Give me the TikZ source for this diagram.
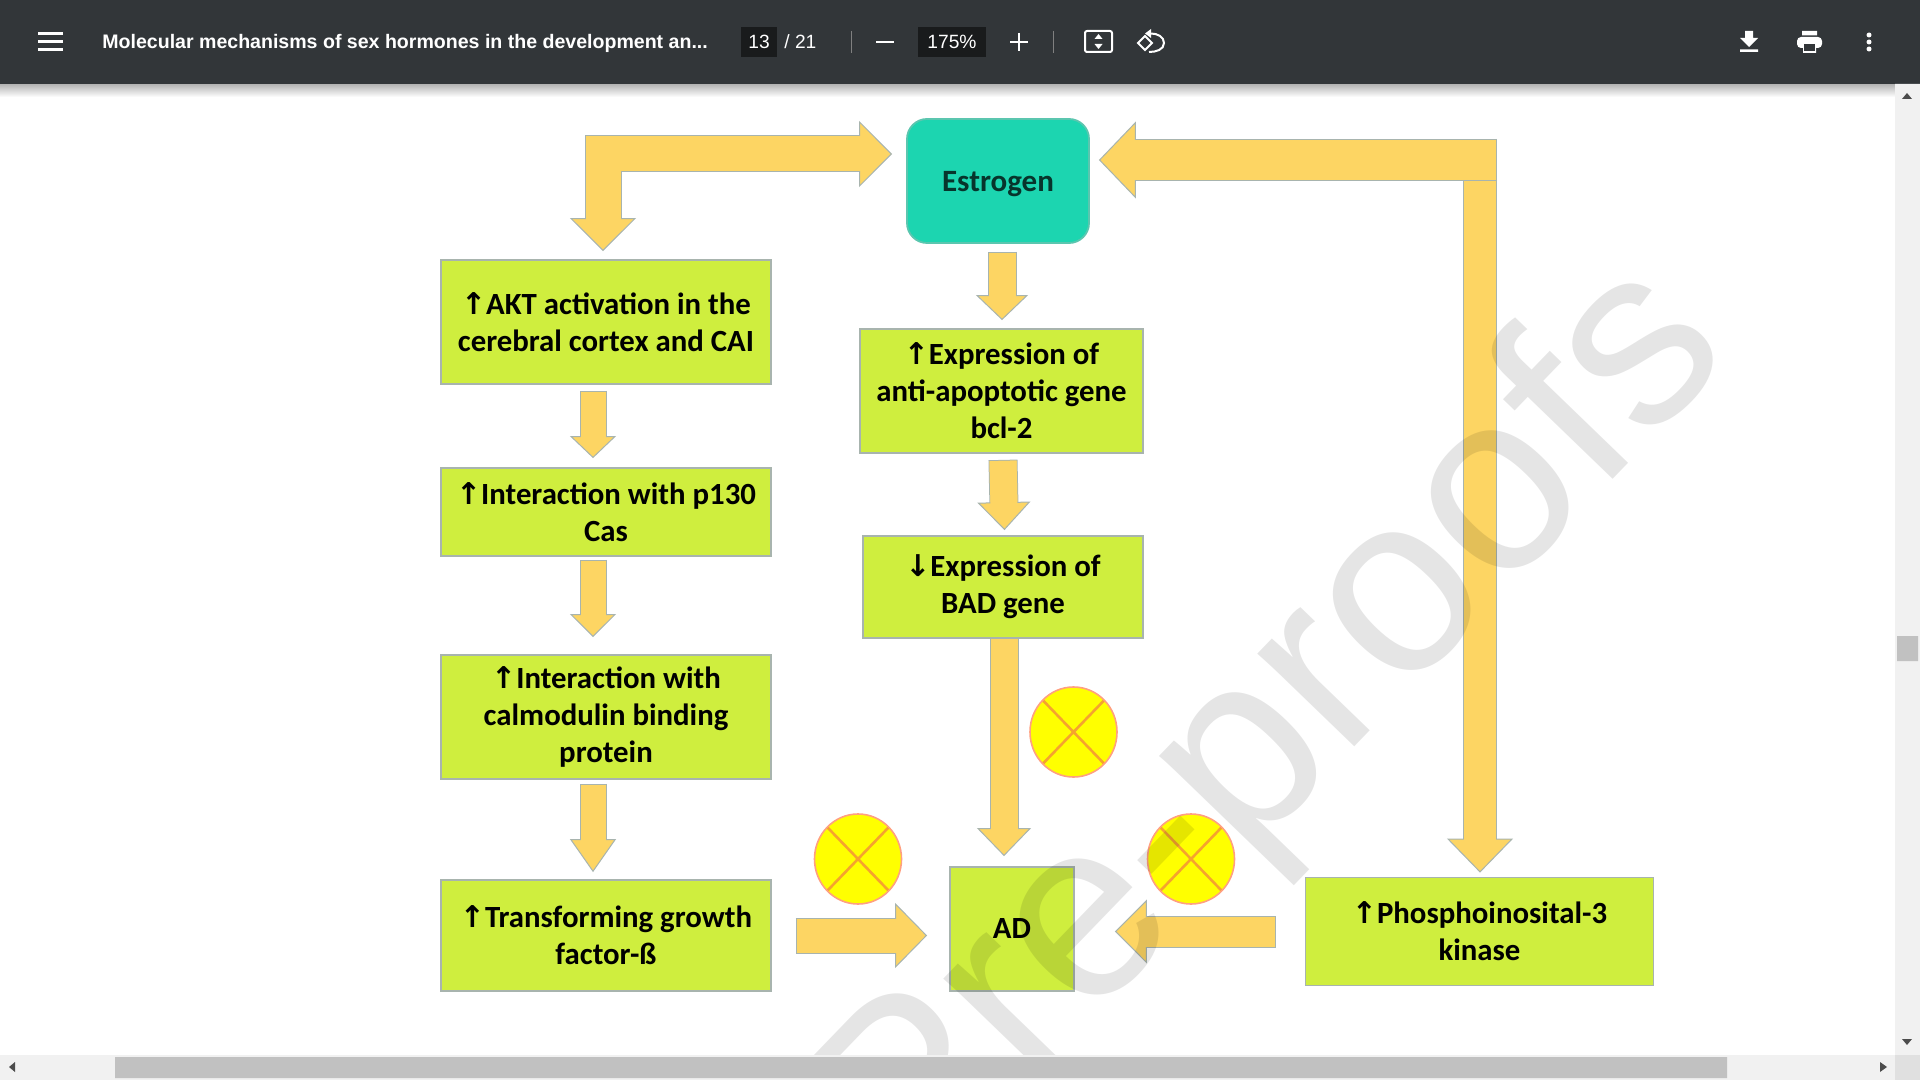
\documentclass[tikz,border=0pt]{standalone}
\usepackage{fontspec}
\usepackage{xcolor}
\usepackage{tikz}
\usetikzlibrary{arrows.meta, shapes.geometric}
\setmainfont{Carlito}
\newfontfamily\uifont{Liberation Sans}
\newfontfamily\markfont{DejaVu Sans}
\newcommand{\upmark}{\smash{\markfont\fontsize{15}{15}\selectfont ↑}}
\newcommand{\downmark}{\smash{\markfont\fontsize{15}{15}\selectfont ↓}}
\definecolor{barcol}{HTML}{323639}
\definecolor{fieldcol}{HTML}{191B1C}
\definecolor{boxcol}{HTML}{CFEE3E}
\definecolor{estrocol}{HTML}{1CD5B0}
\definecolor{arrowcol}{HTML}{FDD563}
\definecolor{edgecol}{HTML}{A8B4AE}
\definecolor{crosscol}{HTML}{F5A32E}
\definecolor{rimcol}{HTML}{FFA080}
\definecolor{markcol}{RGB}{255,255,0}
\definecolor{trackcol}{HTML}{F1F1F1}
\definecolor{thumbcol}{HTML}{C1C1C1}

\begin{document}
\begin{tikzpicture}[
  x=0.5pt, y=-0.5pt,
  gbox/.style={draw=edgecol, line width=0.9pt, fill=boxcol, align=center, inner sep=0pt,
               font=\fontsize{15.4}{18.5}\selectfont\bfseries},
  barrow/.style n args={3}{draw=arrowcol, line width=#1,
               >={Triangle[width=#2, length=#3, line width=0.5pt, color=edgecol, fill=arrowcol]}, ->,
               preaction={draw=edgecol, -, line width=#1+1pt, shorten >=#3-1pt, shorten <=-0.5pt},
               postaction={draw=arrowcol, -, line width=#1, shorten >=#3-1.5pt}},
  barrowboth/.style n args={3}{draw=arrowcol, line width=#1,
               >={Triangle[width=#2, length=#3, line width=0.5pt, color=edgecol, fill=arrowcol]}, <->,
               preaction={draw=edgecol, -, line width=#1+1pt, shorten >=#3-1pt, shorten <=#3-1pt},
               postaction={draw=arrowcol, -, line width=#1, shorten >=#3-1.5pt, shorten <=#3-1.5pt}},
  xmark/.style={ellipse, draw=rimcol, line width=0.8pt, fill=markcol, inner sep=0pt,
               minimum width=43.5pt, minimum height=45pt,
               path picture={\draw[crosscol, line width=1.3pt]
                 (path picture bounding box.north west) -- (path picture bounding box.south east)
                 (path picture bounding box.north east) -- (path picture bounding box.south west);}},
  uitext/.style={text=white, inner sep=0pt, font=\uifont\fontsize{9.6}{11}\selectfont},
]
  \useasboundingbox (0,0) rectangle (1920,1080);
  \fill[white] (0,0) rectangle (1920,1080);

  % Boxes, left column
  \node[gbox, minimum width=165pt, minimum height=62pt] (akt) at (606,322)
    {\upmark AKT activation in the\\cerebral cortex and CAI};
  \node[gbox, minimum width=165pt, minimum height=44pt] (cas) at (606,512)
    {\upmark Interaction with p130\\Cas};
  \node[gbox, minimum width=165pt, minimum height=62pt] (calm) at (606,717)
    {\upmark Interaction with\\calmodulin binding\\protein};
  \node[gbox, minimum width=165pt, minimum height=55.5pt] (tgf) at (606,935.5)
    {\upmark Transforming growth\\factor-ß};

  % Boxes, middle column
  \node[gbox, draw=estrocol!55!edgecol, fill=estrocol, rounded corners=10pt, minimum width=91pt, minimum height=62pt,
        text=black!75!estrocol, font=\fontsize{15.5}{18}\selectfont\bfseries] (estrogen) at (998,181)
    {\raisebox{-1.5pt}[\height][\depth]{Estrogen}};
  \node[gbox, minimum width=141.5pt, minimum height=62pt] (bcl) at (1001.5,391)
    {\upmark Expression of\\anti-apoptotic gene\\bcl-2};
  \node[gbox, minimum width=140pt, minimum height=51pt] (bad) at (1003,587)
    {\downmark Expression of\\BAD gene};
  \node[gbox, minimum width=62pt, minimum height=62pt] (ad) at (1012,929) {AD};
  \node[gbox, minimum width=174pt, minimum height=54pt] (pik) at (1479.5,931.5)
    {\upmark Phosphoinosital-3\\kinase};

  % Inhibition marks
  \node[xmark] (stopbad) at (1073.5,732) {};
  \node[xmark] (stoptgf) at (858,859) {};
  \node[xmark] (stoppik) at (1191,859) {};

  % Block arrows
  \draw[barrowboth={17.5pt}{33pt}{16.5pt}] ([shift={(-14,-27)}]estrogen.west) -| ([shift={(-3,-8)}]akt.north);
  \coordinate (turntop) at (1480,140);
  \coordinate (turnend) at (1496,160);
  \draw[barrow={16pt}{33pt}{17pt}] (turntop) -- ([shift={(0.5,-4)}]pik.north);
  \draw[barrow={20pt}{38.5pt}{18.5pt}] (turnend) -- ([shift={(9,0)}]estrogen.east |- turnend);

  \draw[barrow={13.5pt}{26pt}{12.5pt}] ([shift={(4,9)}]estrogen.south) -- ([shift={(0.5,-8)}]bcl.north);
  \draw[barrow={12.5pt}{23pt}{11pt}] ([shift={(-13,7)}]akt.south) -- ([shift={(-13,-9)}]cas.north);
  \draw[barrow={12.5pt}{23pt}{11.5pt}] ([shift={(-13,4)}]cas.south) -- ([shift={(-13,-17)}]calm.north);
  \draw[barrow={12.5pt}{23pt}{16.5pt}] ([shift={(-13,5)}]calm.south) -- ([shift={(-13,-7)}]tgf.north);
  \draw[barrow={13.5pt}{26.5pt}{14pt}] ([shift={(1.5,7)}]bcl.south) -- ([shift={(1.5,-5)}]bad.north);
  \draw[barrow={13.5pt}{27pt}{14pt}] ([shift={(1,0)}]bad.south) -- ([shift={(-8,-10)}]ad.north);
  \draw[barrow={17pt}{32.5pt}{16pt}] ([shift={(25,0)}]tgf.east) -- ([shift={(-22,6.5)}]ad.west);
  \draw[barrow={15pt}{32pt}{16pt}] ([shift={(-30,0)}]pik.west) -- ([shift={(40,2.5)}]ad.east);

  % Watermark over the page
  \begin{scope}
    \clip (0,84) rectangle (1895,1055);
    \node[rotate=46, anchor=base west, opacity=0.1, text=black, inner sep=0pt,
          font=\uifont\fontsize{127}{127}\selectfont] (mark) at (911,1207) {Pre-proofs};
  \end{scope}

  % Toolbar
  \shade[top color=black!30, bottom color=white] (0,84) rectangle (1895,97);
  \fill[barcol] (0,0) rectangle (1920,84);
  \foreach \yy in {34,42,50} {
    \fill[white] (38,\yy-1.5) rectangle (63,\yy+1.5);
  }
  \node[uitext, anchor=west, font=\uifont\bfseries\fontsize{9.78}{12}\selectfont] (title) at (102,43)
    {Molecular mechanisms of sex hormones in the development an...};
  \fill[fieldcol] (741,27) rectangle (777,57);
  \node[uitext] (pagenum) at (759,42) {13};
  \node[uitext, anchor=west] (pagetotal) at (784,42) {/ 21};
  \fill[fieldcol] (918,27) rectangle (986,57);
  \node[uitext] (zoomval) at (952,42) {175\%};
  \draw[gray, line width=0.5pt] (851,31) -- (851,53) (1053,31) -- (1053,53);
  \draw[white, line width=1.2pt] (876,42) -- (894,42) (1010,42) -- (1028,42) (1019,33) -- (1019,51);
  % fit and rotate icons
  \draw[white, line width=1pt, rounded corners=1pt] (1085,31) rectangle (1112,52);
  \fill[white] (1098.5,34) -- (1102.5,39) -- (1094.5,39) -- cycle (1098.5,49) -- (1102.5,44) -- (1094.5,44) -- cycle;
  \draw[white, line width=1pt] (1145,36) -- (1152,43) -- (1145,50) -- (1138,43) -- cycle;
  \draw[white, line width=1pt] (1151,33.5) to[out=0, in=90] (1164,43) to[out=-90, in=0] (1149,52);
  \fill[white] (1151,29) -- (1151,38) -- (1145,33.5) -- cycle;
  % download, print, menu icons
  \fill[white] (1745,31) rectangle (1753,38) (1740,38) -- (1758,38) -- (1749,47) -- cycle (1740,49.5) rectangle (1758,52);
  \fill[white, rounded corners=2pt] (1797,37) rectangle (1822,48);
  \fill[white] (1802,31) rectangle (1817,35.5) (1803,44) rectangle (1816,53);
  \fill[barcol] (1804,44) rectangle (1815,51);
  \foreach \yy in {35,42,49} {
    \fill[white] (1869,\yy) circle (2.5);
  }

  % Scrollbars
  \fill[trackcol] (1895,84) rectangle (1920,1080) (0,1055) rectangle (1920,1080);
  \fill[black!12] (1895,1055) rectangle (1920,1080);
  \fill[thumbcol] (1897,636) rectangle (1918,661) (115,1057) rectangle (1727,1078);
  \fill[black!70] (1907,93) -- (1912,99) -- (1902,99) -- cycle
    (1907,1045) -- (1912,1039) -- (1902,1039) -- cycle
    (1887,1067) -- (1880,1062) -- (1880,1072) -- cycle
    (9,1067) -- (15,1062) -- (15,1072) -- cycle;
\end{tikzpicture}
\end{document}
